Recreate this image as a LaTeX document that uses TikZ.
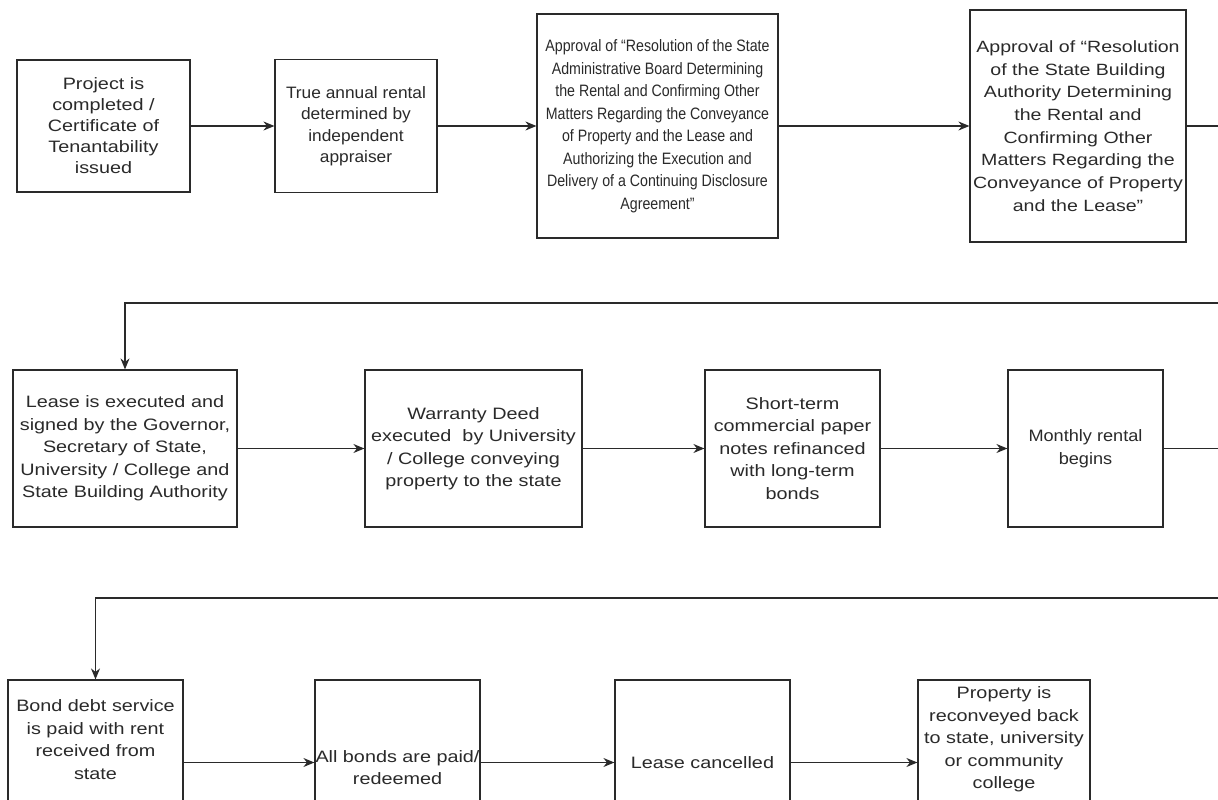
\documentclass[tikz,border=0pt]{standalone}
\usepackage{fontspec}
\setmainfont{Liberation Sans}[FakeStretch=1.2]
\newfontfamily\fcond{Liberation Sans}[FakeStretch=0.86]
\newfontfamily\fmid{Liberation Sans}[FakeStretch=1.05]
\newfontfamily\fmh{Liberation Sans}[FakeStretch=1.1]
\usetikzlibrary{arrows.meta}
\definecolor{ink}{HTML}{2A2A2A}
\tikzset{
  box/.style={draw=ink, line width=1.2pt, text=ink, align=center, inner sep=0pt,
    font=\fontsize{16.5}{22.5}\selectfont},
  txt/.style={text=ink, align=center, inner sep=0pt, font=\fontsize{16.5}{22.5}\selectfont},
  flow/.style={draw=ink, line width=1.2pt, -{Stealth[length=11pt,width=9pt]}},
}
\begin{document}
\begin{tikzpicture}[x=1pt,y=-1pt]
\fill[white] (0,0) rectangle (1218,800);
\useasboundingbox (0,0) rectangle (1218,800);
\clip (0,0) rectangle (1218,800);

% Row 1
\node[box, font=\fontsize{16.5}{21}\selectfont, minimum width=173pt, minimum height=132pt] (A) at (103.5,126)
  {Project is\\completed /\\Certificate of\\Tenantability\\issued};
\node[box, font=\fmid\fontsize{16.5}{21.5}\selectfont, minimum width=162pt, minimum height=133pt] (B) at (356,126)
  {True annual rental\\determined by\\independent\\appraiser};
\node[box, font=\fcond\fontsize{16.5}{22.5}\selectfont, minimum width=241pt, minimum height=224pt] (C) at (657.5,126)
  {Approval of “Resolution of the State\\Administrative Board Determining\\the Rental and Confirming Other\\Matters Regarding the Conveyance\\of Property and the Lease and\\Authorizing the Execution and\\Delivery of a Continuing Disclosure\\Agreement”};
\node[box, font=\fontsize{16.3}{22.7}\selectfont, minimum width=216pt, minimum height=232pt] (D) at (1078,126)
  {Approval of “Resolution\\of the State Building\\Authority Determining\\the Rental and\\Confirming Other\\Matters Regarding the\\Conveyance of Property\\and the Lease”};

% Row 2
\node[box, minimum width=224pt, minimum height=157pt] (E) at (125,448.5)
  {Lease is executed and\\signed by the Governor,\\Secretary of State,\\University / College and\\State Building Authority};
\node[box, minimum width=217pt, minimum height=157pt] (F) at (473.5,448.5)
  {Warranty Deed\\executed\ \ by University\\/ College conveying\\property to the state};
\node[box, minimum width=175pt, minimum height=157pt] (G) at (792.5,448.5)
  {Short-term\\commercial paper\\notes refinanced\\with long-term\\bonds};
\node[box, font=\fmh\fontsize{16.5}{22.5}\selectfont, minimum width=155pt, minimum height=157pt] (H) at (1085.5,448.5)
  {Monthly rental\\begins};

% Row 3
\node[box, minimum width=175pt, minimum height=165pt] (I) at (95.5,762.5) {};
\node[txt] (It) at ([yshift=23pt]I.center)
  {Bond debt service\\is paid with rent\\received from\\state};
\node[box, minimum width=165pt, minimum height=165pt] (J) at (397.5,762.5) {};
\node[txt] (Jt) at ([yshift=-5pt]J.center) {All bonds are paid/\\redeemed};
\node[box, minimum width=175pt, minimum height=165pt] (K) at (702.5,762.5) {Lease cancelled};
\node[box, minimum width=172pt, minimum height=165pt] (L) at (1004,762.5) {};
\node[txt] (Lt) at ([yshift=23pt]L.center)
  {Property is\\reconveyed back\\to state, university\\or community\\college};

% Connectors
\draw[flow] (A) -- (B);
\draw[flow] (B) -- (C);
\draw[flow] (C) -- (D);
\coordinate (t1) at (1240,303);
\draw[flow] (D.east) -| (t1) -| (E.north);
\draw[flow] (E) -- (F);
\draw[flow] (F) -- (G);
\draw[flow] (G) -- (H);
\coordinate (t2) at (1240,598);
\draw[flow] (H.east) -| (t2) -| (I.north);
\draw[flow] (I) -- (J);
\draw[flow] (J) -- (K);
\draw[flow] (K) -- (L);
\end{tikzpicture}
\end{document}
